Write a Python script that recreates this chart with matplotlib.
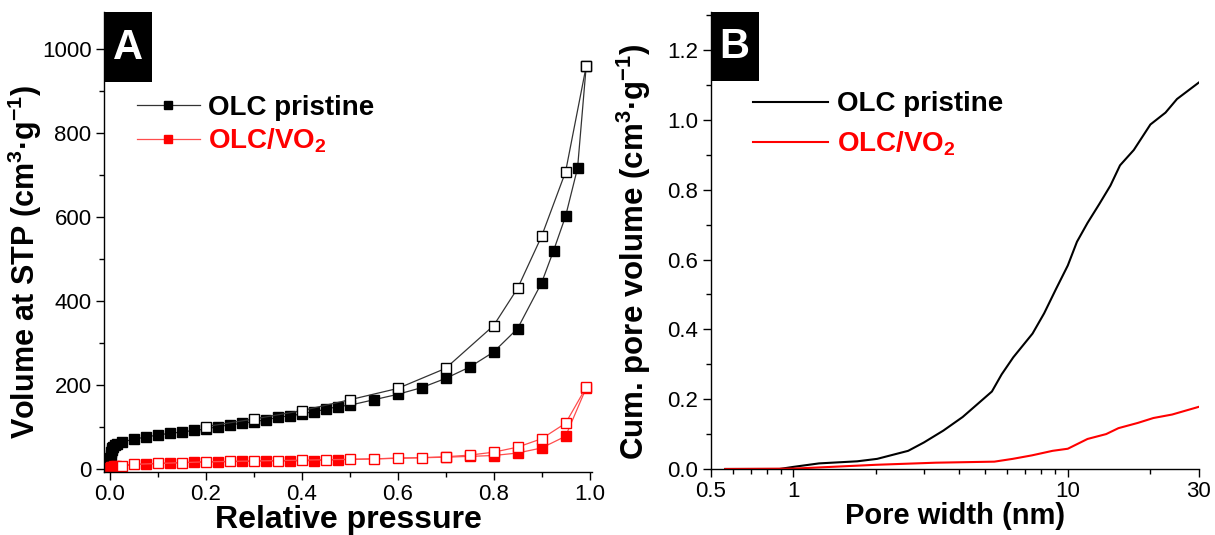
import matplotlib
matplotlib.use("Agg")
import matplotlib.pyplot as plt
from matplotlib.patches import Rectangle
from matplotlib.ticker import MultipleLocator, FixedLocator, NullFormatter

plt.rcParams['font.family'] = ['Liberation Sans', 'DejaVu Sans']
plt.rcParams['mathtext.fontset'] = 'custom'
plt.rcParams['mathtext.bf'] = 'Liberation Sans:bold'
plt.rcParams['mathtext.rm'] = 'Liberation Sans:bold'
plt.rcParams['mathtext.default'] = 'bf'

# --- panel A: N2 isotherms ---
p_ads_olc = [0.0005, 0.001, 0.0015, 0.002, 0.003, 0.004, 0.005, 0.007, 0.01, 0.015,
             0.025, 0.05, 0.075, 0.1, 0.125, 0.15, 0.175, 0.2, 0.225, 0.25, 0.275,
             0.3, 0.325, 0.35, 0.375, 0.4, 0.425, 0.45, 0.475, 0.5, 0.55, 0.6,
             0.65, 0.7, 0.75, 0.8, 0.85, 0.9, 0.925, 0.95, 0.975, 0.993]
v_ads_olc = [5, 15, 25, 32, 40, 45, 49, 52, 55, 58,
             63, 70, 75, 80, 84, 87, 91, 94, 100, 104, 108,
             112, 116, 122, 126, 130, 136, 141, 148, 151, 164, 177,
             193, 215, 242, 278, 334, 443, 520, 602, 717, 960]
p_des_olc = [0.993, 0.95, 0.9, 0.85, 0.8, 0.7, 0.6, 0.5, 0.4, 0.3, 0.2]
v_des_olc = [960, 708, 554, 430, 341, 239, 191, 164, 138, 118, 100]

p_ads_vo2 = [0.001, 0.003, 0.005, 0.008, 0.012, 0.075, 0.125, 0.175, 0.225, 0.275,
             0.325, 0.375, 0.425, 0.475, 0.7, 0.75, 0.8, 0.85, 0.9, 0.95, 0.993]
v_ads_vo2 = [2, 3, 4, 5, 6, 11, 13, 15, 16, 17,
             18, 18, 19, 21, 27, 29, 31, 37, 49, 77, 192]
p_des_vo2 = [0.993, 0.95, 0.9, 0.85, 0.8, 0.75, 0.7, 0.65, 0.6, 0.55, 0.5, 0.45,
             0.4, 0.35, 0.3, 0.25, 0.2, 0.15, 0.1, 0.05, 0.025]
v_des_vo2 = [194, 108, 71, 51, 39, 32, 28, 26, 25, 23, 22, 21,
             20, 19, 18, 17, 16, 14, 12, 10, 7]

# --- panel B: cumulative pore volume ---
w_olc = [0.565, 0.89, 1.0, 1.24, 1.71, 2.02, 2.62, 2.99, 3.52, 4.14, 4.72, 5.29,
         5.74, 6.33, 7.44, 8.2, 9.05, 10.0, 10.8, 11.8, 13.0, 14.3, 15.5, 17.4,
         20.0, 22.7, 25.0, 30.0]
c_olc = [0.0, 0.0, 0.006, 0.016, 0.022, 0.029, 0.052, 0.076, 0.11, 0.149, 0.188, 0.222,
         0.271, 0.32, 0.388, 0.446, 0.515, 0.583, 0.651, 0.705, 0.758, 0.812, 0.87, 0.914,
         0.987, 1.021, 1.06, 1.107]
w_vo2 = [0.565, 1.0, 2.0, 3.3, 5.4, 6.3, 7.4, 8.8, 10.0, 11.8, 13.8, 15.3, 18.0,
         20.5, 24.0, 30.0]
c_vo2 = [0.0, 0.001, 0.012, 0.018, 0.021, 0.029, 0.039, 0.052, 0.058, 0.086, 0.1,
         0.117, 0.132, 0.146, 0.156, 0.178]

RED = '#ff0000'
LRED = '#ff4d4d'

fig = plt.figure(figsize=(12.15, 5.35), dpi=100)
axA = fig.add_axes([0.0856, 0.118, 0.4016, 0.86])
axB = fig.add_axes([0.585, 0.1234, 0.4016, 0.8546])


def style_axes(ax):
    for s in ['top', 'right']:
        ax.spines[s].set_visible(False)
    for s in ['left', 'bottom']:
        ax.spines[s].set_linewidth(1.0)
    ax.tick_params(which='major', direction='out', length=6, width=1.0,
                   labelsize=16, pad=3)
    ax.tick_params(which='minor', direction='out', length=3.5, width=1.0)


def letter_box(ax, letter):
    ax.add_patch(Rectangle((0, 0.848), 0.098, 0.152, transform=ax.transAxes,
                           facecolor='black', edgecolor='none', clip_on=False, zorder=5))
    ax.text(0.049, 0.922, letter, transform=ax.transAxes, color='white',
            fontsize=30, fontweight='bold', ha='center', va='center', zorder=6)


# panel A
style_axes(axA)
ms = 6.5
axA.plot(p_ads_olc, v_ads_olc, color='#333333', lw=0.9, marker='s', ms=ms,
         mfc='black', mec='black', label='OLC pristine')
axA.plot(p_des_olc, v_des_olc, color='#333333', lw=0.9, marker='s', ms=ms,
         mfc='white', mec='black')
axA.plot(p_ads_vo2, v_ads_vo2, color=LRED, lw=0.9, marker='s', ms=ms,
         mfc=RED, mec=RED, label='OLC/VO$_2$')
axA.plot(p_des_vo2, v_des_vo2, color=LRED, lw=0.9, marker='s', ms=ms,
         mfc='white', mec=RED)
axA.set_xlim(-0.012, 1.005)
axA.set_ylim(-8, 1090)
axA.xaxis.set_major_locator(FixedLocator([0.0, 0.2, 0.4, 0.6, 0.8, 1.0]))
axA.xaxis.set_minor_locator(MultipleLocator(0.1))
axA.yaxis.set_major_locator(FixedLocator([0, 200, 400, 600, 800, 1000]))
axA.yaxis.set_minor_locator(MultipleLocator(100))
axA.set_xlabel('Relative pressure', fontsize=23, fontweight='bold', labelpad=0)
axA.set_ylabel('Volume at STP (cm$^3$·g$^{-1}$)', fontsize=22, fontweight='bold')
axA.yaxis.set_label_coords(-0.123, 0.457)
legA = axA.legend(loc='upper left', bbox_to_anchor=(0.045, 0.843), frameon=False,
                  fontsize=20, handlelength=2.25, handletextpad=0.3, labelspacing=0.2,
                  numpoints=1, borderaxespad=0, markerscale=0.8)
for t in legA.get_texts():
    t.set_fontweight('bold')
legA.get_texts()[1].set_color(RED)
letter_box(axA, 'A')

# panel B
style_axes(axB)
axB.plot(w_olc, c_olc, color='black', lw=1.5, label='OLC pristine')
axB.plot(w_vo2, c_vo2, color=RED, lw=1.5, label='OLC/VO$_2$')
axB.set_xscale('log')
axB.set_xlim(0.5, 30)
axB.set_ylim(0, 1.31)
axB.xaxis.set_major_locator(FixedLocator([0.5, 1, 10, 30]))
axB.xaxis.set_major_formatter(matplotlib.ticker.FixedFormatter(['0.5', '1', '10', '30']))
axB.xaxis.set_minor_locator(FixedLocator([0.6, 0.7, 0.8, 0.9, 2, 3, 4, 5, 6, 7, 8, 9, 20]))
axB.xaxis.set_minor_formatter(NullFormatter())
axB.yaxis.set_major_locator(FixedLocator([0.0, 0.2, 0.4, 0.6, 0.8, 1.0, 1.2]))
axB.yaxis.set_major_formatter(matplotlib.ticker.FormatStrFormatter('%.1f'))
axB.yaxis.set_minor_locator(MultipleLocator(0.1))
axB.set_xlabel('Pore width (nm)', fontsize=21, fontweight='bold', labelpad=0)
axB.set_ylabel('Cum. pore volume (cm$^3$·g$^{-1}$)', fontsize=22.5, fontweight='bold')
axB.yaxis.set_label_coords(-0.119, 0.476)
legB = axB.legend(loc='upper left', bbox_to_anchor=(0.063, 0.85), frameon=False,
                  fontsize=20, handlelength=2.7, handletextpad=0.35, labelspacing=0.45,
                  borderaxespad=0)
for t in legB.get_texts():
    t.set_fontweight('bold')
legB.get_texts()[1].set_color(RED)
letter_box(axB, 'B')

fig.savefig('out.png', dpi=100)
